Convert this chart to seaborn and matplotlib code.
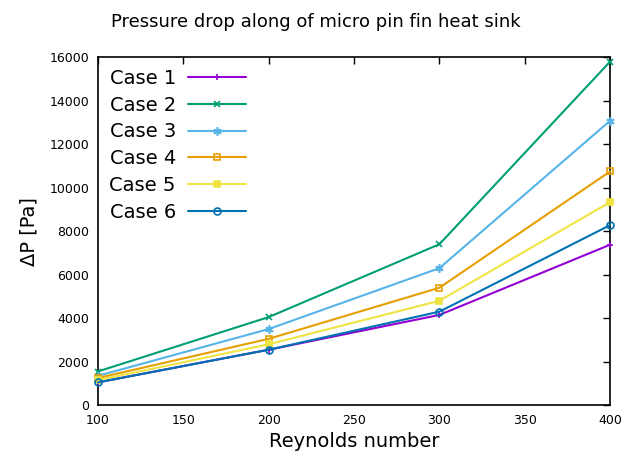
import matplotlib
matplotlib.use("Agg")
import matplotlib.pyplot as plt
import seaborn as sns
import pandas as pd

reynolds = [100, 200, 300, 400]
case_names = ["Case 1", "Case 2", "Case 3", "Case 4", "Case 5", "Case 6"]
case1 = [1050, 2550, 4150, 7380]
case2 = [1550, 4050, 7400, 15800]
case3 = [1350, 3500, 6300, 13080]
case4 = [1250, 3050, 5400, 10750]
case5 = [1150, 2800, 4800, 9340]
case6 = [1050, 2550, 4300, 8280]
x_ticks = [100, 150, 200, 250, 300, 350, 400]
y_ticks = [0, 2000, 4000, 6000, 8000, 10000, 12000, 14000, 16000]

colors = ["#9400d3", "#009e73", "#56b4e9", "#e69f00", "#f0e442", "#0072b2"]
markers = ["+", "x", (6, 2, 0), "s", "s", "o"]
open_marker = [False, False, False, True, False, True]

rows = []
for name, vals in zip(case_names, [case1, case2, case3, case4, case5, case6]):
    for re, dp in zip(reynolds, vals):
        rows.append({"Re": re, "dP": dp, "case": name})
df = pd.DataFrame(rows)

sns.set_style("white")
plt.rcParams["font.family"] = ["DejaVu Sans"]
plt.rcParams["text.color"] = "black"
plt.rcParams["axes.labelcolor"] = "black"

fig = plt.figure(figsize=(6.31, 4.61), dpi=100)
ax = fig.add_axes([0.155, 0.121, 0.812, 0.755])

for i, name in enumerate(case_names):
    sub = df[df["case"] == name]
    face = "none" if open_marker[i] else colors[i]
    sns.lineplot(data=sub, x="Re", y="dP", ax=ax, color=colors[i], linewidth=1.5,
                 label=name, marker=markers[i], markersize=5 if i != 2 else 6,
                 markeredgewidth=1.2, markeredgecolor=colors[i],
                 markerfacecolor=face, clip_on=False, zorder=3)

ax.set_xlim(100, 400)
ax.set_ylim(0, 16000)
ax.set_xticks(x_ticks)
ax.set_yticks(y_ticks)
ax.tick_params(direction="in", length=5, width=1, top=True, right=True,
               labelsize=9, pad=6, colors="black")
for s in ax.spines.values():
    s.set_color("black")
    s.set_linewidth(1.2)

ax.set_xlabel("Reynolds number", fontsize=14, labelpad=4)
ax.set_ylabel("ΔP [Pa]", fontsize=14, labelpad=8)
fig.suptitle("Pressure drop along of micro pin fin heat sink", fontsize=13, y=0.972)

ax.legend(loc="upper left", frameon=False, markerfirst=False, fontsize=14,
          handlelength=3.0, labelspacing=0.4, borderaxespad=0.2, handletextpad=0.6)

fig.savefig("out.png", dpi=100)
